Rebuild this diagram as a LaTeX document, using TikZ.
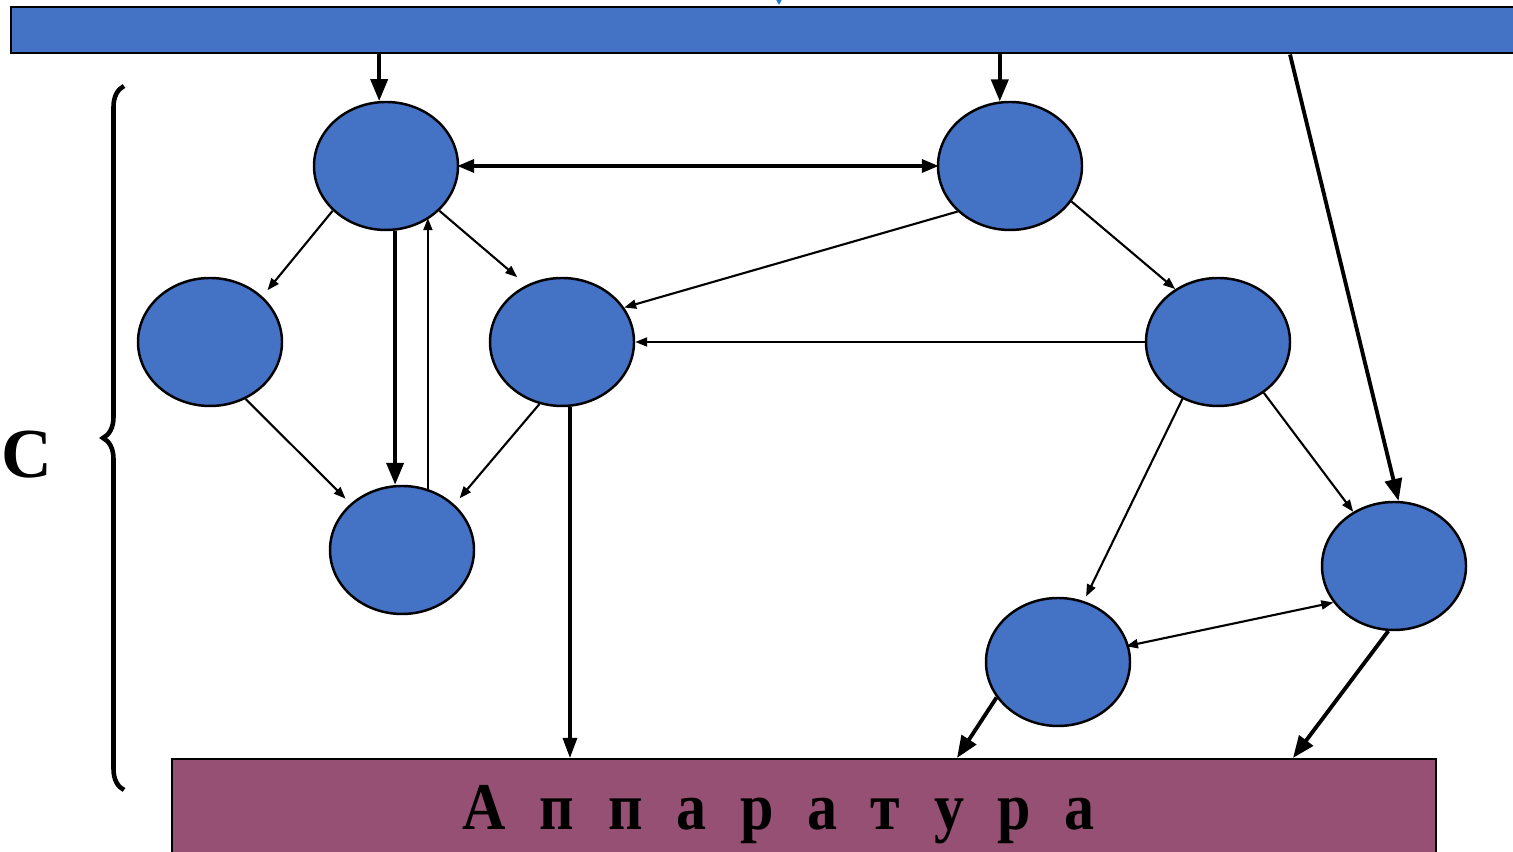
\documentclass[tikz,border=0pt]{standalone}
\usepackage{fontspec}
\setmainfont{Liberation Serif}
\usetikzlibrary{arrows.meta,shapes.geometric,decorations.pathreplacing}
\definecolor{slblue}{HTML}{4472C4}
\definecolor{apbar}{HTML}{955073}
\definecolor{tipblue}{HTML}{1F7AD8}

\begin{document}
\begin{tikzpicture}[
 en/.style={draw,fill=slblue,ellipse,minimum width=1.44cm,minimum height=1.28cm,inner sep=0pt,line width=0.7pt},
 thinarr/.style={line width=0.6pt,-{Triangle[length=0.12cm,width=0.09cm]}},
 thickarr/.style={line width=1.1pt,-{Triangle[length=0.22cm,width=0.17cm]}}
]
 \useasboundingbox (0,0) rectangle (15.13,8.52);
 \clip (0,0) rectangle (15.13,8.52);
 \node[draw,fill=slblue,line width=0.7pt,minimum width=15.3cm,minimum height=0.46cm,inner sep=0pt,anchor=north west] (top) at (0.10,8.46) {}; %上の帯
 \node[draw,fill=apbar,line width=0.7pt,minimum width=12.64cm,minimum height=1.5cm,inner sep=0pt,anchor=north west] (bar) at (1.71,0.94) {}; %下の帯
 \node[anchor=base,inner sep=0pt,font=\bfseries\fontsize{19}{20}\selectfont] (aptxt) at (7.79,0.22) {\scalebox{0.9}[1]{\spaceskip=0.56em А п п а р а т у р а}};
 \node[anchor=base east,inner sep=0pt,font=\bfseries\fontsize{20}{22}\selectfont] (os) at (0.53,3.74) {ОС};

 \coordinate (bt) at (7.79,8.80); %上の青い矢印
 \coordinate (bb) at (7.79,8.47);
 \draw[tipblue,line width=0.5pt,-{Triangle[length=0.05cm,width=0.05cm]}] (bt)--(bb);

 \draw[line width=1.3pt,decorate,decoration={brace,amplitude=0.21cm}] (1.24,0.62)--(1.24,7.66); %括弧

 \node[en] (A) at (3.86,6.86) {};
 \node[en] (B) at (10.10,6.86) {};
 \node[en] (C) at (2.10,5.10) {};
 \node[en] (D) at (5.62,5.10) {};
 \node[en] (E) at (12.18,5.10) {};
 \node[en] (F) at (4.02,3.02) {};
 \node[en] (G) at (13.94,2.86) {};
 \node[en] (H) at (10.58,1.90) {};

 \coordinate (gin) at (12.90,0 |- top.south); %帯からGへ
 \draw[thickarr] (A.96 |- top.south)--(A.96);
 \draw[thickarr] (B.99 |- top.south)--(B.99);
 \draw[thickarr] (gin)--(G.86);

 \draw[line width=1pt,{Triangle[length=0.17cm,width=0.13cm]}-{Triangle[length=0.17cm,width=0.13cm]},shorten <=-0.02cm,shorten >=-0.02cm] (A.east)--(B.west); %A-B

 \draw[thinarr,shorten >=0.08cm] (A.220)--(C.41);
 \draw[thinarr,shorten >=0.12cm] (A.320)--(D.122);
 \draw[thinarr,shorten >=0.07cm] (C.302)--(F.138);
 \draw[thinarr,shorten >=0.08cm] (D.250)--(F.41);
 \draw[thickarr] (A.278)--(A.278 |- F.north); %AからF
 \draw[thinarr] (F.67)--(F.67 |- A.310); %FからA
 \draw[line width=0.9pt,-{Triangle[length=0.2cm,width=0.14cm]}] (D.277)--(D.277 |- bar.north);
 \draw[thinarr] (B.221)--(D.29);
 \draw[thinarr] (B.330)--(E.129);
 \draw[thinarr] (E.west)--(D.east);
 \draw[thinarr,shorten >=0.05cm] (E.238)--(H.67);
 \draw[thinarr] (E.312)--(G.127);
 \draw[line width=0.6pt,{Triangle[length=0.12cm,width=0.09cm]}-{Triangle[length=0.12cm,width=0.09cm]},shorten >=-0.03cm] (G.211)--(H.13); %G-H
 \draw[thickarr] (H.210)--(9.57,0 |- bar.north);
 \draw[thickarr] (G.265)--(12.93,0 |- bar.north);
\end{tikzpicture}
\end{document}
